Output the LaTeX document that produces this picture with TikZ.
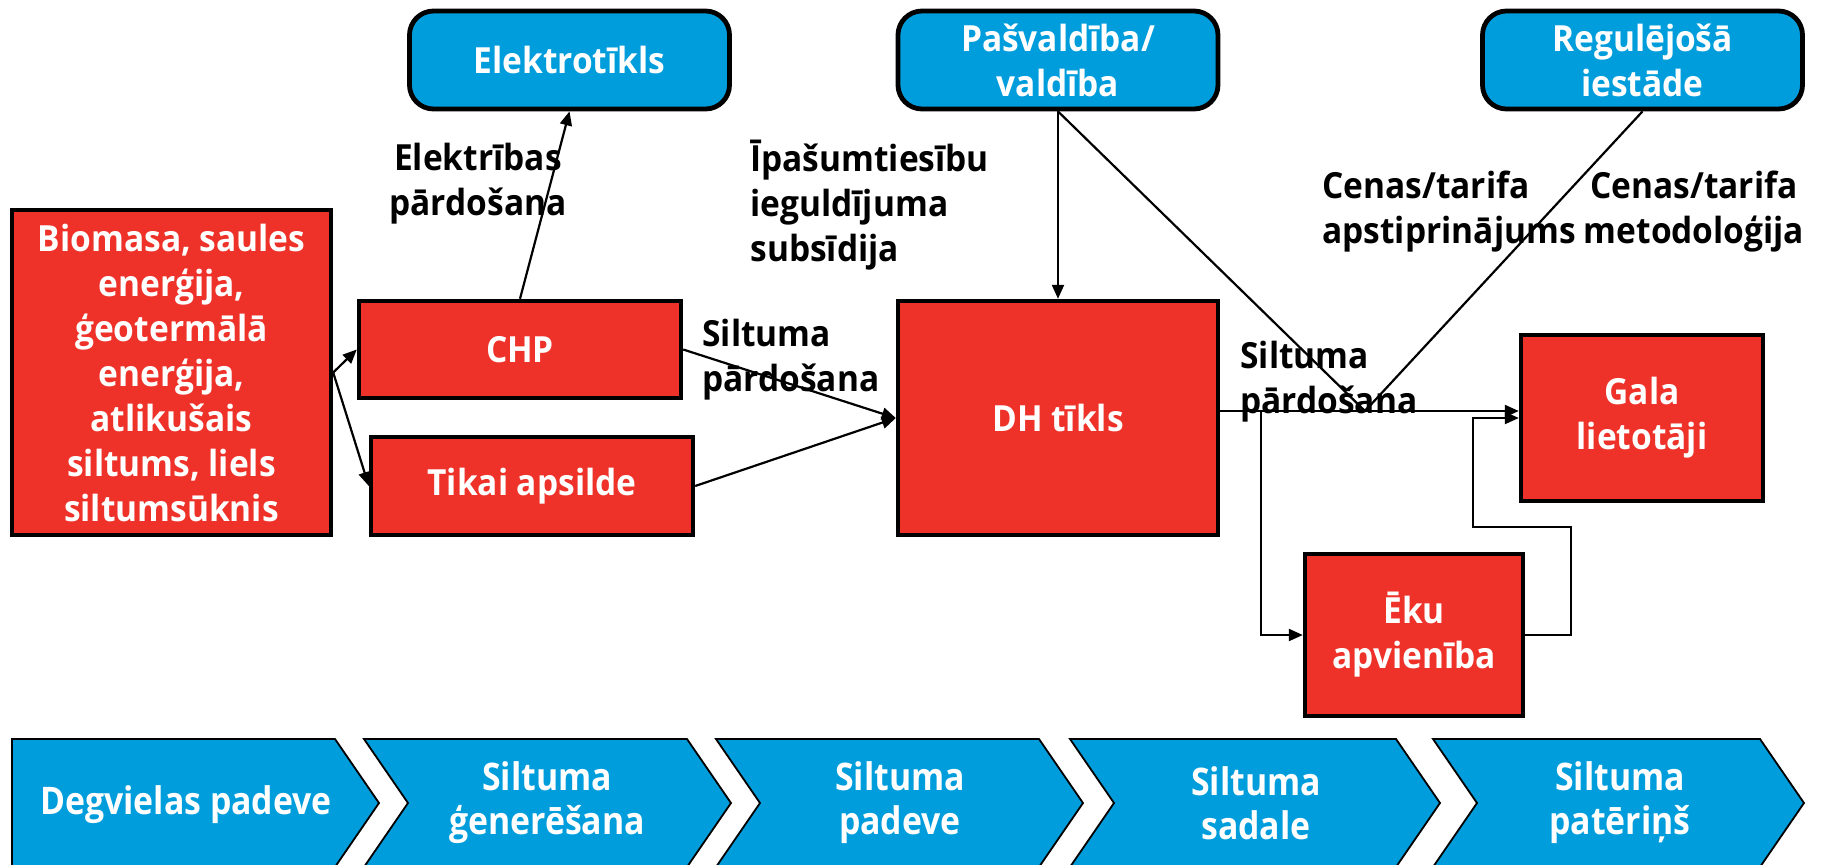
\documentclass[tikz,border=0pt]{standalone}
\usepackage{fontspec}
\setmainfont{Open Sans}[FakeStretch=0.93]
\newfontfamily\stagefont{Open Sans}[FakeStretch=0.89]
\usetikzlibrary{arrows.meta,calc}
\definecolor{dhblue}{RGB}{0,157,220}
\definecolor{dhred}{RGB}{238,50,41}
\begin{document}
\begin{tikzpicture}[x=0.5pt,y=-0.5pt,
  every node/.style={font=\bfseries\fontsize{18}{22.5}\selectfont, inner sep=0pt},
  actor/.style={draw=black, line width=2.4pt, fill=dhblue, rounded corners=12pt, text=white, align=center},
  unit/.style={draw=black, line width=2.2pt, fill=dhred, text=white, align=center},
  lbl/.style={text=black},
  flow/.style={line width=1.1pt, -{Triangle[length=7pt,width=6pt]}},
  link/.style={line width=1.1pt},
  stage/.style={draw=black, line width=0.9pt, fill=dhblue},
  stagetxt/.style={text=white, align=center, font=\stagefont\bfseries\fontsize{19}{22}\selectfont}]
\useasboundingbox (0,0) rectangle (1833,864);
\clip (0,0) rectangle (1833,864);

% actors on the top row
\node[actor, minimum width=160pt, minimum height=49pt] (elektro) at (569.5,60) {Elektrotīkls};
\node[actor, minimum width=160pt, minimum height=49pt] (pasv) at (1058,60) {Pašvaldība/\\valdība};
\node[actor, minimum width=160pt, minimum height=49pt] (reg) at (1642.5,60) {Regulējošā\\iestāde};

% supply chain units
\node[unit, minimum width=159.5pt, minimum height=162.5pt] (bio) at (171.5,372.5)
  {Biomasa, saules\\enerģija,\\ģeotermālā\\enerģija,\\atlikušais\\siltums, liels\\siltumsūknis};
\node[unit, minimum width=161pt, minimum height=48.5pt] (chp) at (520,349.5) {CHP};
\node[unit, minimum width=161pt, minimum height=49pt] (tikai) at (532,486) {Tikai apsilde};
\node[unit, minimum width=160pt, minimum height=117pt] (dh) at (1058,418) {DH tīkls};
\node[unit, minimum width=121pt, minimum height=83pt] (gala) at (1642,418) {Gala\\lietotāji};
\node[unit, minimum width=109pt, minimum height=81pt] (eku) at (1414,635) {Ēku\\apvienība};

% flow labels
\node[lbl, align=center] (lelek) at (478,184) {Elektrības\\pārdošana};
\node[lbl, align=left, anchor=west] (lsubs) at (750,205) {Īpašumtiesību\\ieguldījuma\\subsīdija};
\node[lbl, align=left, anchor=west] (lsilt1) at (702,360) {Siltuma\\pārdošana};
\node[lbl, align=left, anchor=west] (lsilt2) at (1240,382) {Siltuma\\pārdošana};
\node[lbl, align=left, anchor=west] (lcen1) at (1322,212) {Cenas/tarifa\\apstiprinājums};
\node[lbl, align=center] (lcen2) at (1694,212) {Cenas/tarifa\\metodoloģija};

% connectors
\draw[flow] (bio.east) -- (chp.west);
\draw[flow] (bio.east) -- (tikai.west);
\draw[flow] (chp.north) -- (elektro.south);
\draw[flow] (chp.east) -- (dh.west);
\draw[flow] (tikai.east) -- (dh.west);
\draw[flow] (pasv.south) -- (dh.north);

\coordinate (m1) at ($(dh.east)+(0,-7)$);
\coordinate (junc) at (1365,411);
\coordinate (br) at (1261,411);
\coordinate (lp1) at (1571,527);
\coordinate (lp2) at (1473,527);

\draw[link] (pasv.south) -- (junc);
\draw[link] (reg.south) -- (junc);
\draw[flow] (m1) -- (m1 -| gala.west);
\draw[flow] (br) |- (eku.west);
\draw[flow] (eku.east) -| (lp1) -- (lp2) |- (gala.west);

% value chain stages
\path[stage] (12,739) -- (335,739) -- (379,803) -- (335,867) -- (12,867) -- cycle;
\path[stage] (364,739) -- (687,739) -- (731,803) -- (687,867) -- (364,867) -- (408,803) -- cycle;
\path[stage] (716,739) -- (1039,739) -- (1083,803) -- (1039,867) -- (716,867) -- (760,803) -- cycle;
\path[stage] (1070,739) -- (1396,739) -- (1440,803) -- (1396,867) -- (1070,867) -- (1114,803) -- cycle;
\path[stage] (1433,739) -- (1760,739) -- (1804,803) -- (1760,867) -- (1433,867) -- (1477,803) -- cycle;

\node[stagetxt] (s1) at (186,805) {Degvielas padeve};
\node[stagetxt] (s2) at (547,803) {Siltuma\\ģenerēšana};
\node[stagetxt] (s3) at (900,803) {Siltuma\\padeve};
\node[stagetxt] (s4) at (1256,803) {Siltuma\\sadale};
\node[stagetxt] (s5) at (1620,803) {Siltuma\\patēriņš};
\end{tikzpicture}
\end{document}
